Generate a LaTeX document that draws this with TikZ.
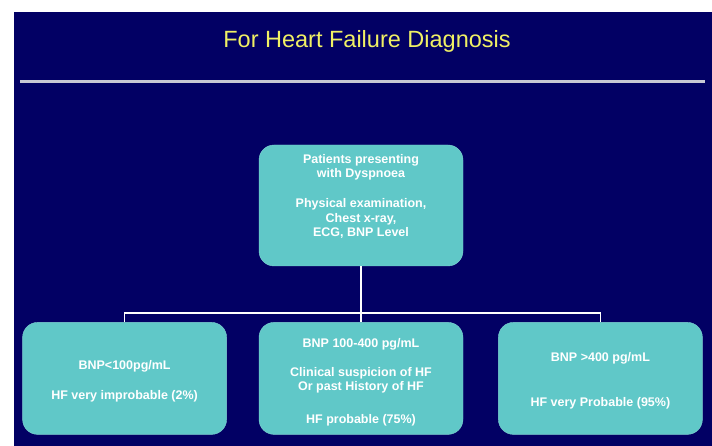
\documentclass[tikz,border=0pt]{standalone}
\usepackage{fontspec}
\setmainfont{Liberation Sans}
\usetikzlibrary{positioning}
\definecolor{slidenavy}{RGB}{2,0,100}
\definecolor{boxteal}{RGB}{96,200,200}
\definecolor{titleyellow}{RGB}{240,240,100}
\definecolor{rulegray}{RGB}{200,200,212}
\newcommand{\HFBoxWidth}{204pt}
\newcommand{\HFBoxGap}{33pt}

\begin{document}
\begin{tikzpicture}[x=1pt, y=-1pt,
		hfbox/.style={draw=boxteal!80!white, fill=boxteal, rounded corners=15pt, minimum width=\HFBoxWidth, inner sep=0pt, align=center, text=white, font=\fontsize{12.5}{14.5}\selectfont\bfseries},
		link/.style={draw=white, line width=1.5pt}]
		\useasboundingbox (0,0) rectangle (712,446);
		\fill[white] (0,0) rectangle (712,446);
		\fill[slidenavy] (14,12) rectangle (712,446);
		% title and rule
		\node[anchor=base, text=titleyellow, font=\fontsize{23.5}{26}\selectfont] (title) at (367,48) {For Heart Failure Diagnosis};
		\coordinate (ruleL) at (20,82);
		\coordinate (ruleR) at (705,82);
		\draw[rulegray, line width=3pt] (ruleL) -- (ruleR);
		% boxes
		\node[hfbox, minimum height=121pt] (patients) at (361,205.5) {Patients presenting\\ with Dyspnoea\\[15.5pt] Physical examination,\\ Chest x-ray,\\ ECG, BNP Level\\[5.5pt]\mbox{}};
		\node[hfbox, minimum height=112pt, below=56pt of patients] (bnpmid) {\rule{0pt}{17pt}BNP 100-400 pg/mL\\[14.5pt] Clinical suspicion of HF\\[-0.5pt] Or past History of HF\\[18.5pt] HF probable (75\%)};
		\node[hfbox, minimum height=112pt, left=\HFBoxGap-1pt of bnpmid] (bnplow) {\rule{0pt}{15pt}BNP<100pg/mL\\[15.5pt] HF very improbable (2\%)};
		\node[hfbox, minimum height=112pt, right=\HFBoxGap+2pt of bnpmid] (bnphigh) {\rule{0pt}{13pt}BNP >400 pg/mL\\[30.5pt] HF very Probable (95\%)};
		% connectors
		\coordinate[below=47pt of patients.south] (fork);
		\draw[link] (patients.south) -- (fork);
		\draw[link] (bnplow.north) |- (fork) -| (bnphigh.north);
		\draw[link] (fork) -- (bnpmid.north);
	\end{tikzpicture}
\end{document}
